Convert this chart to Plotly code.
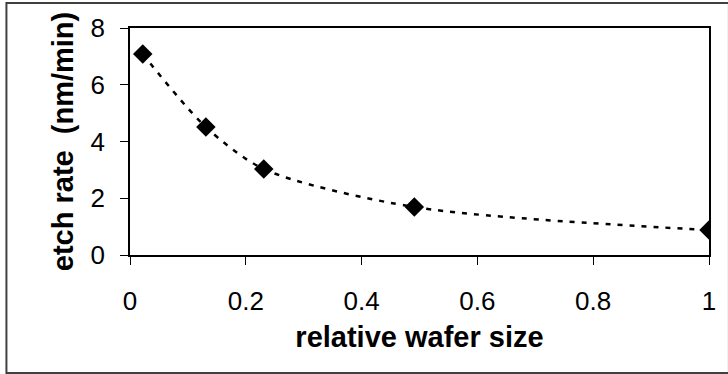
import plotly.graph_objects as go

wafer_size = [0.022, 0.131, 0.231, 0.491, 1.0]
etch_rate = [7.08, 4.51, 3.03, 1.69, 0.88]
x_ticks = [0, 0.2, 0.4, 0.6, 0.8, 1]
x_tick_text = ["0", "0.2", "0.4", "0.6", "0.8", "1"]
y_ticks = [0, 2, 4, 6, 8]

W, H = 728, 374
L, R, T, B = 130, 17, 28, 119
pw, ph = W - L - R, H - T - B

fig = go.Figure()
fig.add_trace(go.Scatter(
    x=wafer_size, y=etch_rate, mode="lines+markers",
    line=dict(color="black", width=2.5, dash="5px,7px", shape="spline", smoothing=0.8),
    marker=dict(symbol="diamond", size=15, color="black"),
    showlegend=False,
))

font = dict(family="Liberation Sans, Arial, sans-serif", size=26, color="black")
fig.update_layout(
    width=W, height=H,
    margin=dict(l=L, r=R, t=T, b=B),
    paper_bgcolor="white", plot_bgcolor="white",
    font=font,
    xaxis=dict(
        range=[0, 1], tickvals=x_ticks, ticktext=x_tick_text,
        showgrid=False, zeroline=False,
        showline=True, linecolor="black", linewidth=1.5, mirror=True,
        ticks="outside", ticklen=8, tickcolor="black",
        ticklabelstandoff=14,
        title=dict(text="<b>relative wafer size</b>", font=dict(size=29), standoff=12),
        tickfont=dict(size=26),
    ),
    yaxis=dict(
        range=[0, 8], tickvals=y_ticks,
        showgrid=False, zeroline=False,
        showline=True, linecolor="black", linewidth=1.5, mirror=True,
        ticks="outside", ticklen=8, tickcolor="black",
        ticklabelstandoff=10,
        title=dict(text="<b>etch rate&nbsp; (nm/min)</b>", font=dict(size=29), standoff=8),
        tickfont=dict(size=26),
    ),
)

# outer frame around the whole chart
fig.add_shape(
    type="rect", xref="paper", yref="paper",
    x0=(6 - L) / pw, x1=(731 - L) / pw,
    y0=-(373 - T - ph) / ph, y1=(ph + T - 3) / ph,
    line=dict(color="#404040", width=2), layer="above",
)

fig.write_html("out.html")
